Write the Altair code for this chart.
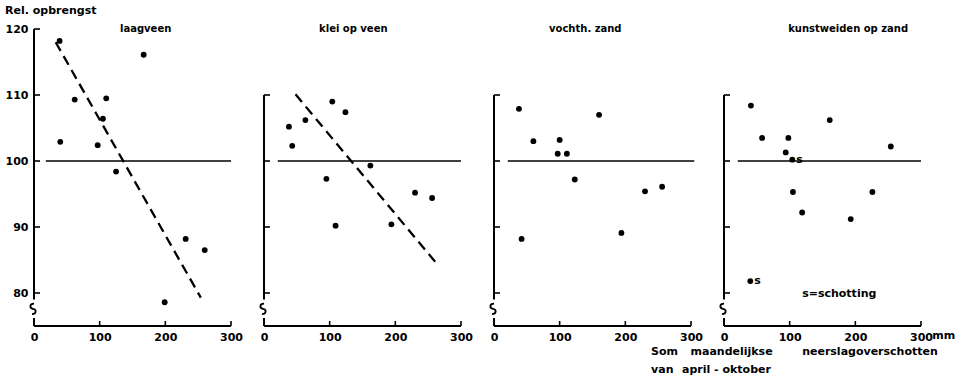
import altair as alt
import pandas as pd

# ---------------- data ----------------
X_TICKS = [0, 100, 200, 300]
Y_TICKS_FIRST = [80, 90, 100, 110, 120]
Y_TICKS_OTHER = [80, 90, 100, 110]

titles = ["laagveen", "klei op veen", "vochth. zand", "kunstweiden op zand"]
title_x = [170, 136, 139, 189]

laag_x = [39, 40, 62, 97, 105, 110, 125, 167, 199, 231, 260]
laag_y = [118.2, 102.9, 109.3, 102.4, 106.4, 109.5, 98.4, 116.1, 78.6, 88.2, 86.5]
laag_trend_x = [33, 254]
laag_trend_y = [118.0, 79.3]

klei_x = [38, 43, 63, 95, 104, 109, 124, 162, 194, 230, 256]
klei_y = [105.2, 102.3, 106.2, 97.3, 109.0, 90.2, 107.4, 99.3, 90.4, 95.2, 94.4]
klei_trend_x = [48, 266]
klei_trend_y = [110.1, 84.1]

vocht_x = [38, 42, 60, 97, 100, 111, 123, 160, 194, 230, 256]
vocht_y = [107.9, 88.2, 103.0, 101.1, 103.2, 101.1, 97.2, 107.0, 89.1, 95.4, 96.1]

kunst_x = [40, 41, 58, 94, 98, 104, 105, 119, 161, 193, 226, 254]
kunst_y = [81.8, 108.4, 103.5, 101.3, 103.5, 100.2, 95.3, 92.2, 106.2, 91.2, 95.3, 102.2]
schotting_x = [40, 104]
schotting_y = [81.8, 100.2]

ref_start = [18, 21, 21, 21]
ref_end = [300, 300, 305, 300]

# ---------------- style ----------------
FONT = "DejaVu Sans"
W, H = 197, 297
XS = alt.Scale(domain=[0, 300], nice=False, zero=False)
YS = alt.Scale(domain=[75, 120], nice=False, zero=False)
BREAK_SHAPE = "M0.2,-1 C-0.7,-1 -0.7,-0.1 0,0 C0.7,0.1 0.7,1 -0.2,1"

xaxis = alt.Axis(values=X_TICKS, domain=False, ticks=False, tickSize=0, grid=False,
                 labelFlush=False, labelPadding=5, labelFont=FONT, labelFontWeight="bold",
                 labelFontSize=11, labelColor="black", title=None)
yaxis_first = alt.Axis(values=Y_TICKS_FIRST, domain=False, ticks=False, tickSize=0, grid=False,
                       labelPadding=6, labelFont=FONT, labelFontWeight="bold",
                       labelFontSize=11, labelColor="black", title=None)


def make_panel(i, xs, ys, trend=None, first=False, extras=None):
    yaxis = yaxis_first if first else None

    def X(f):
        return alt.X(f, type="quantitative", scale=XS, axis=xaxis)

    def Y(f):
        return alt.Y(f, type="quantitative", scale=YS, axis=yaxis)

    layers = []
    # horizontal 100-line
    ref = pd.DataFrame({"x": [ref_start[i]], "x2": [ref_end[i]], "y": [100]})
    layers.append(alt.Chart(ref).mark_rule(color="black", strokeWidth=1.4).encode(
        x=X("x"), x2="x2:Q", y=Y("y")))
    # dashed regression line
    if trend is not None:
        tr = pd.DataFrame({"x": trend[0], "y": trend[1]})
        layers.append(alt.Chart(tr).mark_line(color="black", strokeWidth=2.3,
                                              strokeDash=[10, 6]).encode(x=X("x"), y=Y("y")))
    # y axis line (with break)
    ytop = 120 if first else 110
    ya = pd.DataFrame({"x": [0, 0], "y": [79.0, 76.2], "y2": [ytop, 75]})
    layers.append(alt.Chart(ya).mark_rule(color="black", strokeWidth=2).encode(
        x=X("x"), y=Y("y"), y2="y2:Q"))
    yt = pd.DataFrame({"y": Y_TICKS_FIRST if first else Y_TICKS_OTHER})
    layers.append(alt.Chart(yt).mark_rule(color="black", strokeWidth=1.6).encode(
        y=Y("y"), x=alt.value(0), x2=alt.value(6)))
    brk = pd.DataFrame({"x": [0], "y": [77.6]})
    layers.append(alt.Chart(brk).mark_point(shape=BREAK_SHAPE, size=110, filled=False,
                                            strokeWidth=1.8, color="black", opacity=1,
                                            xOffset=-1).encode(x=X("x"), y=Y("y")))
    # x axis line and ticks
    xa = pd.DataFrame({"x": [0], "x2": [300], "y": [75]})
    layers.append(alt.Chart(xa).mark_rule(color="black", strokeWidth=2).encode(
        x=X("x"), x2="x2:Q", y=Y("y")))
    xt = pd.DataFrame({"x": X_TICKS})
    layers.append(alt.Chart(xt).mark_rule(color="black", strokeWidth=1.6).encode(
        x=X("x"), y=alt.value(H), y2=alt.value(H - 5)))
    # panel title
    tt = pd.DataFrame({"x": [title_x[i]], "y": [120], "t": [titles[i]]})
    layers.append(alt.Chart(tt).mark_text(font=FONT, fontSize=10, fontWeight="bold",
                                          color="black").encode(
        x=X("x"), y=Y("y"), text="t:N"))
    # points
    pts = pd.DataFrame({"x": xs, "y": ys})
    layers.append(alt.Chart(pts).mark_circle(size=34, color="black", opacity=1).encode(
        x=X("x"), y=Y("y")))
    if extras:
        layers.extend(extras(X, Y))
    return alt.layer(*layers).properties(width=W, height=H)


def first_extras(X, Y):
    d = pd.DataFrame({"x": [-44], "y": [122.7], "t": ["Rel. opbrengst"]})
    return [alt.Chart(d).mark_text(font=FONT, fontSize=11, fontWeight="bold", align="left",
                                   color="black").encode(x=X("x"), y=Y("y"), text="t:N")]


def last_extras(X, Y):
    s = pd.DataFrame({"x": schotting_x, "y": schotting_y, "t": ["s", "s"]})
    notes = pd.DataFrame({
        "x": [119, 317, -111, -51, 119, -111, -64],
        "y": [79.8, 73.5, 71.0, 71.0, 71.0, 68.3, 68.3],
        "t": ["s=schotting", "mm", "Som", "maandelijkse", "neerslagoverschotten",
              "van", "april - oktober"],
    })
    return [
        alt.Chart(s).mark_text(font=FONT, fontSize=11, fontWeight="bold", align="left",
                               dx=4, color="black").encode(x=X("x"), y=Y("y"), text="t:N"),
        alt.Chart(notes).mark_text(font=FONT, fontSize=11, fontWeight="bold", align="left",
                                   color="black").encode(x=X("x"), y=Y("y"), text="t:N"),
    ]


p1 = make_panel(0, laag_x, laag_y, (laag_trend_x, laag_trend_y), first=True, extras=first_extras)
p2 = make_panel(1, klei_x, klei_y, (klei_trend_x, klei_trend_y))
p3 = make_panel(2, vocht_x, vocht_y)
p4 = make_panel(3, kunst_x, kunst_y, extras=last_extras)

chart = alt.hconcat(p1, p2, p3, p4, spacing=33, bounds="flush").configure_view(
    stroke=None).properties(background="white")

chart.save("out.html", embed_options={"renderer": "svg", "actions": False})
